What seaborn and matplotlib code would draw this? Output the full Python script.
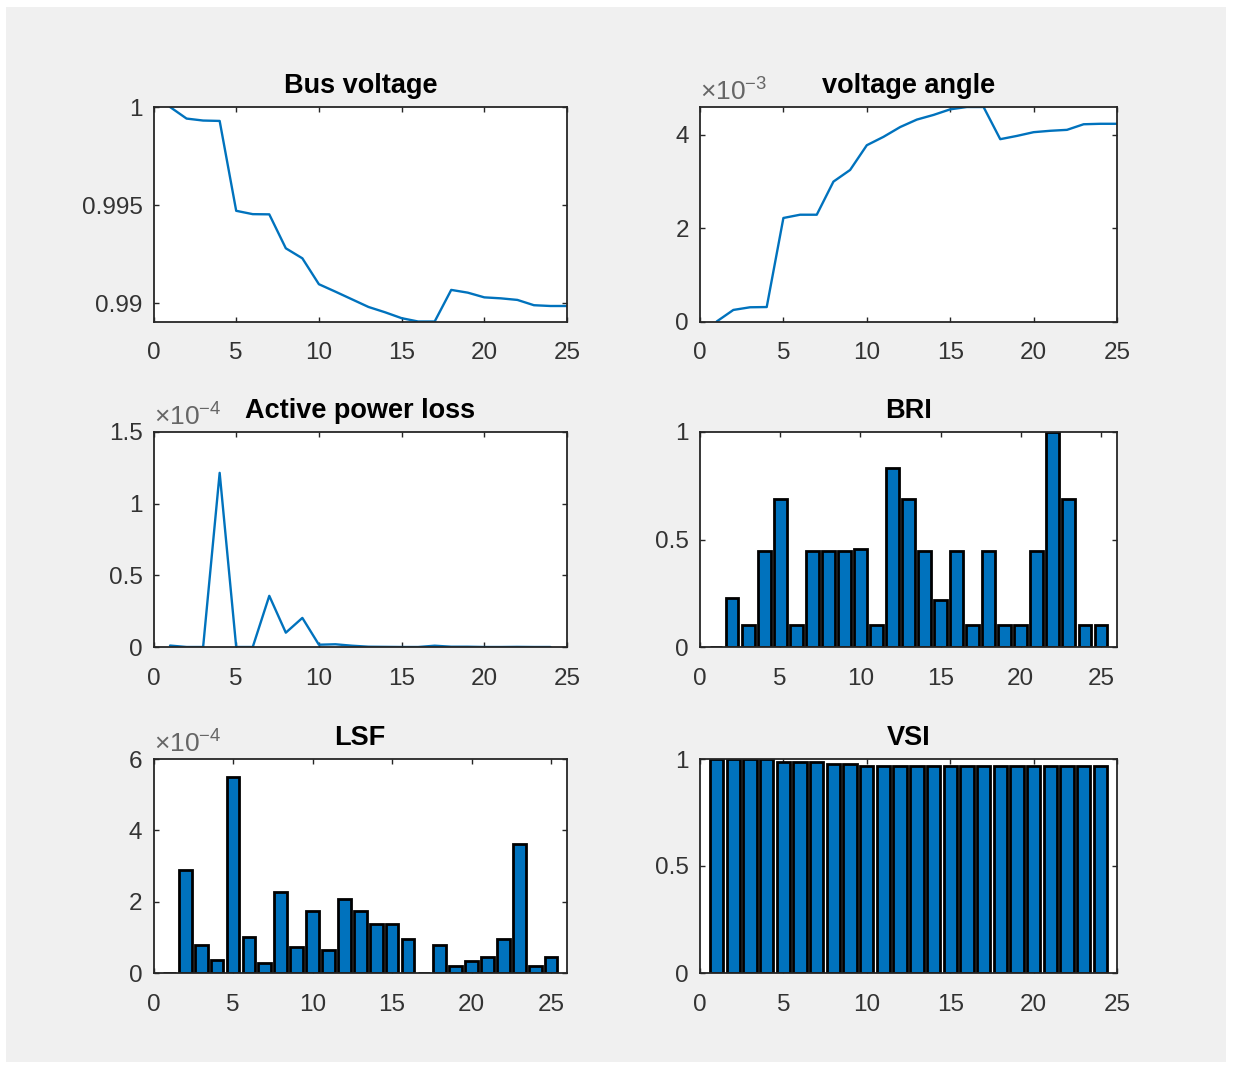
import numpy as np
import matplotlib
matplotlib.use("Agg")
import matplotlib.pyplot as plt
from matplotlib.patches import Rectangle
from matplotlib.ticker import FuncFormatter
import seaborn as sns

# -----------------------------
# Data
# -----------------------------
bus_idx = list(range(1, 26))
bus_voltage = [1.00000, 0.99941, 0.99931, 0.99929, 0.99471, 0.99454, 0.99453,
               0.99280, 0.99229, 0.99097, 0.99059, 0.99020, 0.98981, 0.98954,
               0.98924, 0.98907, 0.98907, 0.99068, 0.99054, 0.99030, 0.99025,
               0.99017, 0.98990, 0.98986, 0.98986]
voltage_angle = [0.0, 0.248e-3, 0.305e-3, 0.31e-3, 2.22e-3, 2.29e-3, 2.29e-3,
                 3.00e-3, 3.25e-3, 3.78e-3, 3.96e-3, 4.17e-3, 4.33e-3, 4.43e-3,
                 4.55e-3, 4.60e-3, 4.60e-3, 3.91e-3, 3.98e-3, 4.06e-3, 4.09e-3,
                 4.11e-3, 4.23e-3, 4.24e-3, 4.24e-3]

branch_idx = list(range(1, 25))
power_loss = [0.01e-4, 0.0, 0.0, 1.215e-4, 0.0, 0.0, 0.357e-4, 0.10e-4,
              0.203e-4, 0.016e-4, 0.019e-4, 0.009e-4, 0.002e-4, 0.001e-4, 0.0,
              0.0, 0.009e-4, 0.002e-4, 0.002e-4, 0.0, 0.0, 0.001e-4, 0.0, 0.0]

bri = [0.0, 0.229, 0.104, 0.446, 0.689, 0.104, 0.446, 0.446, 0.446, 0.457,
       0.104, 0.832, 0.689, 0.446, 0.218, 0.446, 0.104, 0.446, 0.104, 0.104,
       0.446, 1.0, 0.689, 0.104, 0.104]

lsf = [0.0, 2.89e-4, 0.79e-4, 0.37e-4, 5.50e-4, 1.01e-4, 0.28e-4, 2.26e-4,
       0.73e-4, 1.74e-4, 0.65e-4, 2.08e-4, 1.74e-4, 1.37e-4, 1.37e-4, 0.95e-4,
       0.0, 0.79e-4, 0.21e-4, 0.35e-4, 0.44e-4, 0.95e-4, 3.61e-4, 0.21e-4,
       0.44e-4]

vsi = [1.0, 1.0, 1.0, 1.0, 0.988, 0.988, 0.988, 0.977, 0.977, 0.965, 0.965,
       0.965, 0.965, 0.965, 0.965, 0.965, 0.965, 0.965, 0.965, 0.965, 0.965,
       0.965, 0.965, 0.965]

BLUE = "#0072BD"
TICK_COLOR = "#333333"

# -----------------------------
# Style
# -----------------------------
sns.set_style("ticks")
plt.rcParams["font.family"] = ["Liberation Sans", "DejaVu Sans"]
plt.rcParams["mathtext.fontset"] = "custom"
plt.rcParams["mathtext.rm"] = "Liberation Sans"
plt.rcParams["mathtext.it"] = "Liberation Sans"
plt.rcParams["axes.linewidth"] = 1.3
plt.rcParams["axes.edgecolor"] = "#262626"

fig = plt.figure(figsize=(12.34, 10.68), dpi=100)
fig.patch.set_facecolor("white")
fig.patches.append(Rectangle((6 / 1234, 1 - 1062 / 1068), 1220 / 1234, 1055 / 1068,
                             transform=fig.transFigure, facecolor="#f0f0f0",
                             edgecolor="none", zorder=-10))

W, H = 1234, 1068
def axes_at(left, top, right, bottom):
    return fig.add_axes([left / W, 1 - bottom / H, (right - left) / W, (bottom - top) / H])

ax_bv = axes_at(153.5, 107, 567, 321.5)
ax_va = axes_at(700, 107, 1117, 321.5)
ax_pl = axes_at(153.5, 432, 567, 647)
ax_bri = axes_at(700, 432, 1117, 647)
ax_lsf = axes_at(153.5, 759, 567, 973)
ax_vsi = axes_at(700, 759, 1117, 973)

fmt_g = FuncFormatter(lambda v, p: f"{v:g}")

def style(ax, title, xlim, xticks, ylim, yticks, scale=None):
    ax.set_xlim(*xlim)
    ax.set_ylim(*ylim)
    ax.set_xticks(xticks)
    ax.set_yticks(yticks)
    ax.xaxis.set_major_formatter(fmt_g)
    if scale is None:
        ax.yaxis.set_major_formatter(fmt_g)
    else:
        ax.yaxis.set_major_formatter(FuncFormatter(lambda v, p: f"{round(v / 10.0 ** scale, 6):g}"))
        ax.text(0.0, 1.005, r"$\mathregular{\times10^{%d}}$" % scale, transform=ax.transAxes,
                ha="left", va="bottom", fontsize=19, color="#666666")
    ax.set_xlabel("")
    ax.set_ylabel("")
    ax.set_title(title, fontsize=19.5, fontweight="bold", color="black", pad=10)
    ax.tick_params(direction="in", top=True, right=True, length=3.5, width=1.0,
                   labelsize=17.5, labelcolor=TICK_COLOR, color="#262626")
    ax.tick_params(axis="y", pad=8)
    ax.tick_params(axis="x", pad=15)
    for s in ax.spines.values():
        s.set_visible(True)
    ax.set_facecolor("white")
    ax.grid(False)

# -----------------------------
# Line plots
# -----------------------------
sns.lineplot(x=bus_idx, y=bus_voltage, ax=ax_bv, color=BLUE, linewidth=1.7)
style(ax_bv, "Bus voltage", (0, 25), range(0, 26, 5),
      (min(bus_voltage), max(bus_voltage)), [0.99, 0.995, 1.0])

sns.lineplot(x=bus_idx, y=voltage_angle, ax=ax_va, color=BLUE, linewidth=1.7)
style(ax_va, "voltage angle", (0, 25), range(0, 26, 5),
      (min(voltage_angle), max(voltage_angle)), [0, 2e-3, 4e-3], scale=-3)

sns.lineplot(x=branch_idx, y=power_loss, ax=ax_pl, color=BLUE, linewidth=1.7)
style(ax_pl, "Active power loss", (0, 25), range(0, 26, 5),
      (0, 1.5e-4), [0, 0.5e-4, 1e-4, 1.5e-4], scale=-4)

# -----------------------------
# Bar plots
# -----------------------------
bar_kw = dict(color=BLUE, edgecolor="black", linewidth=2.0, errorbar=None,
              native_scale=True, width=0.8, saturation=1)

sns.barplot(x=bus_idx, y=bri, ax=ax_bri, **bar_kw)
style(ax_bri, "BRI", (0, 26), range(0, 26, 5), (0, 1), [0, 0.5, 1])

sns.barplot(x=bus_idx, y=lsf, ax=ax_lsf, **bar_kw)
style(ax_lsf, "LSF", (0, 26), range(0, 26, 5), (0, 6e-4), [0, 2e-4, 4e-4, 6e-4], scale=-4)

sns.barplot(x=branch_idx, y=vsi, ax=ax_vsi, **bar_kw)
style(ax_vsi, "VSI", (0, 25), range(0, 26, 5), (0, 1), [0, 0.5, 1])

fig.savefig("out.png", dpi=100, facecolor=fig.get_facecolor())
